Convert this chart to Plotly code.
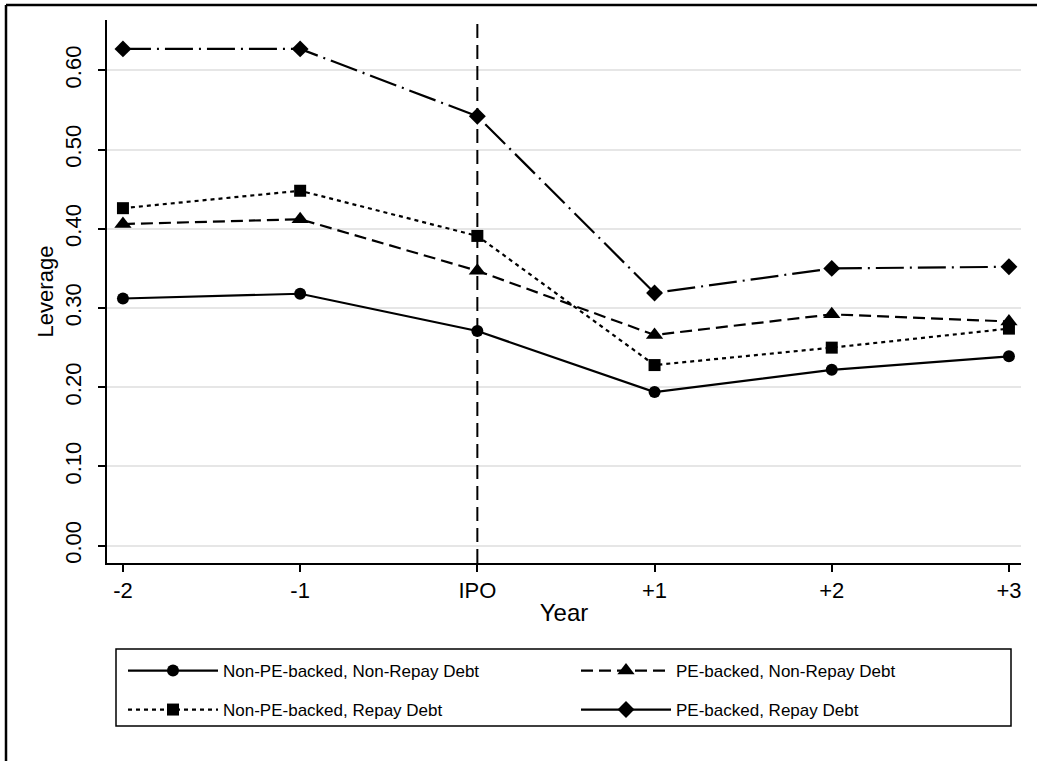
import plotly.graph_objects as go

years = ["-2", "-1", "IPO", "+1", "+2", "+3"]
nonpe_nonrepay = [0.312, 0.318, 0.271, 0.194, 0.222, 0.239]
pe_nonrepay = [0.406, 0.412, 0.347, 0.266, 0.292, 0.283]
nonpe_repay = [0.426, 0.448, 0.391, 0.228, 0.250, 0.274]
pe_repay = [0.627, 0.627, 0.542, 0.319, 0.350, 0.352]

series_names = [
    "Non-PE-backed, Non-Repay Debt",
    "PE-backed, Non-Repay Debt",
    "Non-PE-backed, Repay Debt",
    "PE-backed, Repay Debt",
]

W, H = 1037, 761
L, R, T, B = 107, 1021, 20, 563  # plot area in pixels


def px(x):
    return (x - L) / (R - L)


def py(y):
    return (B - y) / (B - T)


FONT = "Liberation Sans, Arial, sans-serif"

styles = [
    dict(dash="solid", symbol="circle", size=12, ldash="solid", lx=123, ly=671),
    dict(dash="12px,6px", symbol="triangle-up", size=15, ldash="12px,6px", lx=576, ly=671),
    dict(dash="4px,4px", symbol="square", size=12, ldash="4px,4px", lx=123, ly=710),
    dict(dash="28px,6px,2px,6px", symbol="diamond", size=13, ldash="solid", lx=576, ly=710),
]
values = [nonpe_nonrepay, pe_nonrepay, nonpe_repay, pe_repay]
legend_ids = ["legend", "legend2", "legend3", "legend4"]

fig = go.Figure()
for name, vals, st in zip(series_names, values, styles):
    fig.add_trace(go.Scatter(
        x=years, y=vals, mode="lines+markers", name=name, showlegend=False,
        line=dict(color="black", width=2.2, dash=st["dash"]),
        marker=dict(symbol=st["symbol"], size=st["size"], color="black", line=dict(width=0)),
    ))
# legend entries (one legend per entry for exact placement)
for name, st, lid in zip(series_names, styles, legend_ids):
    fig.add_trace(go.Scatter(
        x=[None], y=[None], mode="lines+markers", name=name, legend=lid,
        line=dict(color="black", width=2.2, dash=st["ldash"]),
        marker=dict(symbol=st["symbol"], size=st["size"], color="black", line=dict(width=0)),
    ))

# vertical IPO line
fig.add_shape(type="line", xref="x", yref="paper", x0=years.index("IPO"), x1=years.index("IPO"),
              y0=0, y1=1, line=dict(color="black", width=2, dash="14px,7px"))
# legend box
fig.add_shape(type="rect", xref="paper", yref="paper", x0=px(116), x1=px(1011), y0=py(726), y1=py(649),
              line=dict(color="black", width=1.5), fillcolor="rgba(0,0,0,0)")
# outer frame (top and left edges visible)
fig.add_shape(type="line", xref="paper", yref="paper", x0=px(6), x1=px(1100), y0=py(5), y1=py(5),
              line=dict(color="black", width=2.5))
fig.add_shape(type="line", xref="paper", yref="paper", x0=px(6), x1=px(6), y0=py(5), y1=py(800),
              line=dict(color="black", width=2.5))

legend_layouts = {}
for st, lid in zip(styles, legend_ids):
    legend_layouts[lid] = dict(
        x=px(st["lx"]), y=py(st["ly"]), xanchor="left", yanchor="middle", orientation="h",
        itemwidth=90, bgcolor="rgba(0,0,0,0)", borderwidth=0,
        font=dict(family=FONT, size=17, color="black"),
        itemclick=False, itemdoubleclick=False,
    )

fig.update_layout(
    width=W, height=H,
    margin=dict(l=L, r=W - R, t=T, b=H - B),
    paper_bgcolor="white", plot_bgcolor="white",
    font=dict(family=FONT, size=22, color="black"),
    xaxis=dict(
        type="category", range=[-0.09, 5.068], showline=True, linecolor="black", linewidth=1.5,
        ticks="outside", ticklen=7, tickwidth=1.5, tickcolor="black", showgrid=False, zeroline=False,
        tickfont=dict(family=FONT, size=22, color="black"),
        title=dict(text="Year", font=dict(family=FONT, size=24, color="black"), standoff=2),
    ),
    yaxis=dict(
        range=[-0.0218, 0.6635], tick0=0, dtick=0.1, tickformat=".2f", tickangle=-90,
        showline=True, linecolor="black", linewidth=1.5, ticks="outside", ticklen=7, tickwidth=1.5,
        tickcolor="black", showgrid=True, gridcolor="#e6e6e6", gridwidth=1.5, zeroline=False,
        tickfont=dict(family=FONT, size=22, color="black"), ticklabelstandoff=8,
        title=dict(text="Leverage", font=dict(family=FONT, size=22, color="black"), standoff=2),
    ),
    **legend_layouts,
)

fig.write_html("out.html", config={"displayModeBar": False},
               post_script="document.body.style.margin='0px';")
